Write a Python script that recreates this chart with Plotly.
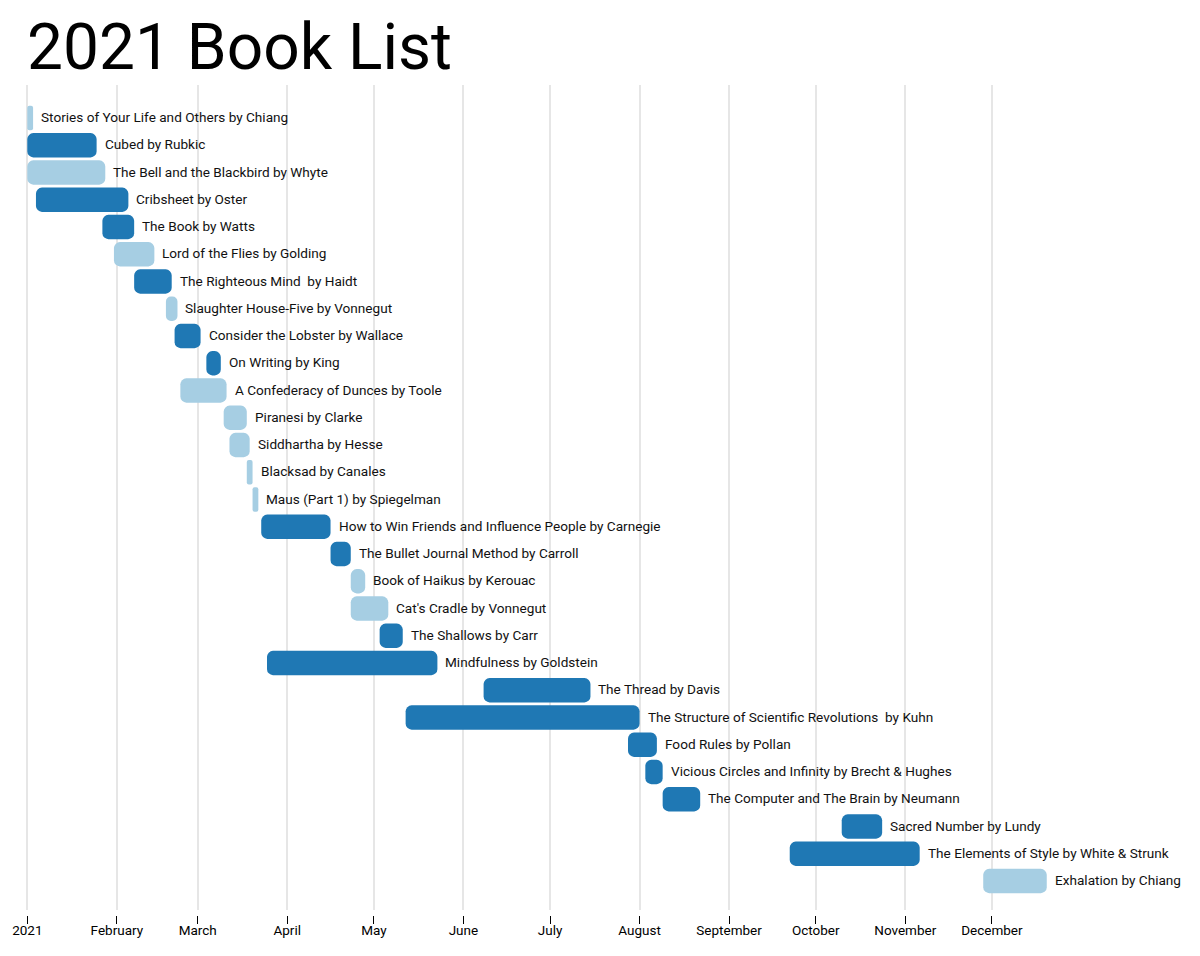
import pandas as pd
import plotly.graph_objects as go

titles = [
    "Stories of Your Life and Others by Chiang",
    "Cubed by Rubkic",
    "The Bell and the Blackbird by Whyte",
    "Cribsheet by Oster",
    "The Book by Watts",
    "Lord of the Flies by Golding",
    "The Righteous Mind  by Haidt",
    "Slaughter House-Five by Vonnegut",
    "Consider the Lobster by Wallace",
    "On Writing by King",
    "A Confederacy of Dunces by Toole",
    "Piranesi by Clarke",
    "Siddhartha by Hesse",
    "Blacksad by Canales",
    "Maus (Part 1) by Spiegelman",
    "How to Win Friends and Influence People by Carnegie",
    "The Bullet Journal Method by Carroll",
    "Book of Haikus by Kerouac",
    "Cat's Cradle by Vonnegut",
    "The Shallows by Carr",
    "Mindfulness by Goldstein",
    "The Thread by Davis",
    "The Structure of Scientific Revolutions  by Kuhn",
    "Food Rules by Pollan",
    "Vicious Circles and Infinity by Brecht & Hughes",
    "The Computer and The Brain by Neumann",
    "Sacred Number by Lundy",
    "The Elements of Style by White & Strunk",
    "Exhalation by Chiang",
]

starts = [
    "2021-01-01", "2021-01-01", "2021-01-01", "2021-01-04", "2021-01-27",
    "2021-01-31", "2021-02-07", "2021-02-18", "2021-02-21", "2021-03-04",
    "2021-02-23", "2021-03-10", "2021-03-12", "2021-03-18", "2021-03-20",
    "2021-03-23", "2021-04-16", "2021-04-23", "2021-04-23", "2021-05-03",
    "2021-03-25", "2021-06-08", "2021-05-12", "2021-07-28", "2021-08-03",
    "2021-08-09", "2021-10-10", "2021-09-22", "2021-11-28",
]

ends = [
    "2021-01-03", "2021-01-25", "2021-01-28", "2021-02-05", "2021-02-07",
    "2021-02-14", "2021-02-20", "2021-02-22", "2021-03-02", "2021-03-09",
    "2021-03-11", "2021-03-18", "2021-03-19", "2021-03-20", "2021-03-22",
    "2021-04-16", "2021-04-23", "2021-04-28", "2021-05-06", "2021-05-11",
    "2021-05-23", "2021-07-15", "2021-08-01", "2021-08-07", "2021-08-09",
    "2021-08-22", "2021-10-24", "2021-11-06", "2021-12-20",
]

kinds = [
    "light", "dark", "light", "dark", "dark",
    "light", "dark", "light", "dark", "dark",
    "light", "light", "light", "light", "light",
    "dark", "dark", "light", "light", "dark",
    "dark", "dark", "dark", "dark", "dark",
    "dark", "dark", "dark", "light",
]

tick_dates = [
    "2021-01-01", "2021-02-01", "2021-03-01", "2021-04-01", "2021-05-01",
    "2021-06-01", "2021-07-01", "2021-08-01", "2021-09-01", "2021-10-01",
    "2021-11-01", "2021-12-01",
]
tick_labels = [
    "2021", "February", "March", "April", "May", "June", "July",
    "August", "September", "October", "November", "December",
]

palette = {"dark": "#1f78b4", "light": "#a6cee3"}

s = pd.to_datetime(starts)
e = pd.to_datetime(ends)
durations = [(b - a).total_seconds() * 1000 for a, b in zip(s, e)]
colors = [palette[k] for k in kinds]

fig = go.Figure()
fig.add_trace(go.Bar(
    y=titles,
    x=durations,
    base=starts,
    orientation="h",
    marker=dict(color=colors, line=dict(width=0)),
    width=0.89,
    hoverinfo="skip",
    showlegend=False,
))

for t, end in zip(titles, ends):
    fig.add_annotation(
        x=end, y=t, text=t, showarrow=False,
        xanchor="left", yanchor="middle", xshift=6, yshift=1,
        font=dict(family="Roboto", size=13.6, color="#111111"),
    )

# geometry
W, H = 1200, 956
L, R = 16, 60
px_per_day = 2.888
jan1_px = 27.3
plot_w = W - L - R
x0 = pd.Timestamp("2021-01-01") - pd.Timedelta(days=(jan1_px - L) / px_per_day)
x1 = x0 + pd.Timedelta(days=plot_w / px_per_day)

top_px, grid_bot_px, axis_px = 85, 910, 915
paper_h = axis_px - top_px
row0, row_step = 118.0, 27.25
n = len(titles)
y_top = -(row0 - top_px) / row_step
y_bot = (n - 1) + (grid_bot_px - (row0 + (n - 1) * row_step)) / row_step

fig.update_layout(
    width=W, height=H,
    margin=dict(l=L, r=R, t=top_px, b=H - axis_px, pad=0),
    plot_bgcolor="white", paper_bgcolor="white",
    barcornerradius=6,
    font=dict(family="Roboto", size=13, color="#000000"),
    title=dict(
        text="2021 Book List", xref="container", yref="container",
        x=0.0225, xanchor="left", y=1 - 46.5 / H, yanchor="middle",
        font=dict(family="Roboto", size=64, color="#000000"),
    ),
    xaxis=dict(
        type="date", range=[x0, x1],
        tickvals=tick_dates, ticktext=tick_labels,
        showgrid=True, gridcolor="#e6e6e6", gridwidth=1.5,
        ticks="outside", ticklen=8, tickwidth=1, tickcolor="#000000",
        ticklabelstandoff=-5,
        showline=False, zeroline=False,
        anchor="free", position=0,
        tickfont=dict(family="Roboto", size=13.5, color="#000000"),
    ),
    yaxis=dict(
        type="category", categoryorder="array", categoryarray=titles,
        range=[y_bot, y_top],
        domain=[(axis_px - grid_bot_px) / paper_h, 1],
        showticklabels=False, showgrid=False, zeroline=False,
        showline=False, ticks="",
    ),
)

fig.write_html("out.html")
